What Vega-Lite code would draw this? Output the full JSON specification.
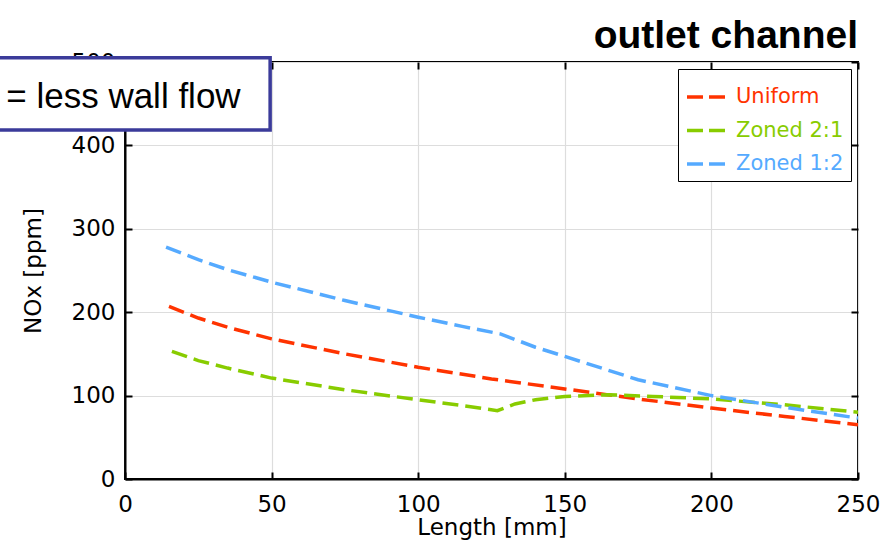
{
  "$schema": "https://vega.github.io/schema/vega-lite/v6.json",
  "autosize": "none",
  "width": 733,
  "height": 417,
  "padding": {"left": 125, "top": 62, "right": 27, "bottom": 67},
  "background": "white",
  "title": {"text": "outlet channel", "anchor": "end", "frame": "group", "font": "Liberation Sans", "fontSize": 39, "fontWeight": "bold", "color": "black", "offset": -5},
  "config": {
    "view": {"stroke": "black", "strokeWidth": 2},
    "axis": {"gridColor": "#dddddd", "gridWidth": 1.2, "domainColor": "black", "domainWidth": 2, "tickColor": "black", "tickWidth": 2, "tickSize": -7, "labelFlush": false, "labelFont": "DejaVu Sans", "labelFontSize": 23, "labelColor": "black", "titleFont": "DejaVu Sans", "titleFontSize": 23, "titleFontWeight": "normal", "titleColor": "black"}
  },
  "datasets": {
    "lines": [
      {"series": "Uniform", "length": 15, "nox": 207},
      {"series": "Uniform", "length": 25, "nox": 193},
      {"series": "Uniform", "length": 35, "nox": 182},
      {"series": "Uniform", "length": 50, "nox": 168},
      {"series": "Uniform", "length": 75, "nox": 150},
      {"series": "Uniform", "length": 100, "nox": 134},
      {"series": "Uniform", "length": 125, "nox": 120},
      {"series": "Uniform", "length": 150, "nox": 108},
      {"series": "Uniform", "length": 175, "nox": 96},
      {"series": "Uniform", "length": 200, "nox": 85},
      {"series": "Uniform", "length": 225, "nox": 75},
      {"series": "Uniform", "length": 250, "nox": 65},
      {"series": "Zoned 2:1", "length": 16, "nox": 153},
      {"series": "Zoned 2:1", "length": 25, "nox": 142},
      {"series": "Zoned 2:1", "length": 35, "nox": 133},
      {"series": "Zoned 2:1", "length": 50, "nox": 121},
      {"series": "Zoned 2:1", "length": 75, "nox": 107},
      {"series": "Zoned 2:1", "length": 100, "nox": 95},
      {"series": "Zoned 2:1", "length": 115, "nox": 88},
      {"series": "Zoned 2:1", "length": 127, "nox": 82},
      {"series": "Zoned 2:1", "length": 133, "nox": 90},
      {"series": "Zoned 2:1", "length": 140, "nox": 95},
      {"series": "Zoned 2:1", "length": 150, "nox": 99},
      {"series": "Zoned 2:1", "length": 165, "nox": 101},
      {"series": "Zoned 2:1", "length": 180, "nox": 99},
      {"series": "Zoned 2:1", "length": 200, "nox": 96},
      {"series": "Zoned 2:1", "length": 225, "nox": 89},
      {"series": "Zoned 2:1", "length": 250, "nox": 80},
      {"series": "Zoned 1:2", "length": 14, "nox": 278},
      {"series": "Zoned 1:2", "length": 25, "nox": 263},
      {"series": "Zoned 1:2", "length": 35, "nox": 251},
      {"series": "Zoned 1:2", "length": 50, "nox": 236},
      {"series": "Zoned 1:2", "length": 75, "nox": 214},
      {"series": "Zoned 1:2", "length": 100, "nox": 194},
      {"series": "Zoned 1:2", "length": 115, "nox": 183},
      {"series": "Zoned 1:2", "length": 128, "nox": 174},
      {"series": "Zoned 1:2", "length": 140, "nox": 158},
      {"series": "Zoned 1:2", "length": 150, "nox": 147},
      {"series": "Zoned 1:2", "length": 175, "nox": 119},
      {"series": "Zoned 1:2", "length": 200, "nox": 100},
      {"series": "Zoned 1:2", "length": 225, "nox": 86},
      {"series": "Zoned 1:2", "length": 250, "nox": 73}
    ],
    "note": [
      {"x1": -46, "x2": 49.5, "y1": 505, "y2": 418.5, "tx": -40.5, "ty": 458, "label": "= less wall flow"}
    ]
  },
  "resolve": {"axis": {"x": "independent", "y": "independent"}},
  "layer": [
    {
      "data": {"name": "lines"},
      "mark": {"type": "line", "strokeWidth": 3.5, "strokeDash": [16, 7], "clip": true},
      "encoding": {
        "x": {"field": "length", "type": "quantitative", "scale": {"domain": [0, 250], "nice": false}, "axis": {"title": "Length [mm]", "values": [0, 50, 100, 150, 200, 250], "labelPadding": 21, "titlePadding": 0}},
        "y": {"field": "nox", "type": "quantitative", "scale": {"domain": [0, 500], "nice": false}, "axis": {"title": "NOx [ppm]", "values": [0, 100, 200, 300, 400, 500], "labelPadding": 17, "titlePadding": 26}},
        "color": {
          "field": "series", "type": "nominal",
          "scale": {"domain": ["Uniform", "Zoned 2:1", "Zoned 1:2"], "range": ["#ff3300", "#88cc00", "#55aaff"]},
          "legend": {
            "title": null, "orient": "top-right", "offset": 7,
            "strokeColor": "black", "fillColor": "white", "padding": 7,
            "symbolType": "stroke", "symbolStrokeWidth": 3.5, "symbolDash": [16, 6], "symbolSize": 1444,
            "labelFont": "DejaVu Sans", "labelFontSize": 21, "rowPadding": 2.5, "labelOffset": 9,
            "encode": {"labels": {"update": {"fill": {"scale": "color", "field": "value"}}}}
          }
        },
        "detail": {"field": "series"}
      }
    },
    {
      "data": {"name": "lines"},
      "mark": {"type": "line", "opacity": 0},
      "encoding": {
        "x": {"field": "length", "type": "quantitative", "axis": {"orient": "top", "labels": false, "grid": false, "domain": false, "title": null, "values": [0, 50, 100, 150, 200, 250]}},
        "y": {"field": "nox", "type": "quantitative", "axis": {"orient": "right", "labels": false, "grid": false, "domain": false, "title": null, "values": [0, 100, 200, 300, 400, 500]}}
      }
    },
    {
      "data": {"name": "note"},
      "mark": {"type": "rect", "fill": "white", "stroke": "#3b3b9a", "strokeWidth": 3.5, "clip": false},
      "encoding": {
        "x": {"field": "x1", "type": "quantitative", "axis": null},
        "x2": {"field": "x2"},
        "y": {"field": "y1", "type": "quantitative", "axis": null},
        "y2": {"field": "y2"}
      }
    },
    {
      "data": {"name": "note"},
      "mark": {"type": "text", "align": "left", "baseline": "middle", "font": "Liberation Sans", "fontSize": 35, "color": "black", "clip": false},
      "encoding": {
        "x": {"field": "tx", "type": "quantitative", "axis": null},
        "y": {"field": "ty", "type": "quantitative", "axis": null},
        "text": {"field": "label"}
      }
    }
  ]
}
